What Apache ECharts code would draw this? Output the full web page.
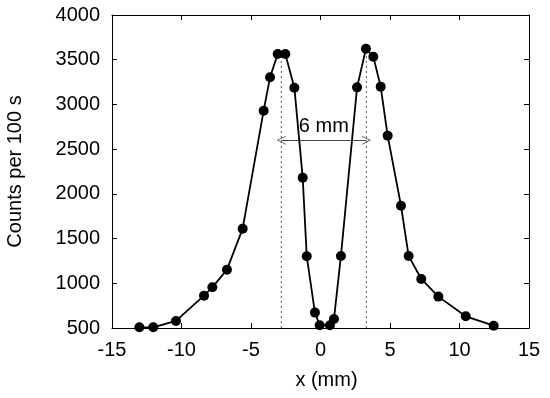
<!DOCTYPE html>
<html><head><meta charset="utf-8">
<script src="https://cdn.jsdelivr.net/npm/echarts@6/dist/echarts.min.js"></script>
<style>html,body{margin:0;padding:0;background:#fff}#c{width:550px;height:398px}</style>
</head><body><div id="c"></div>
<script>
var xValues = [-13.03,-12.03,-10.40,-8.38,-7.78,-6.73,-5.60,-4.09,-3.63,-3.08,-2.53,-1.88,-1.28,-0.99,-0.40,-0.06,0.68,0.97,1.47,2.63,3.27,3.80,4.33,4.83,5.79,6.34,7.25,8.48,10.45,12.46];
var counts  = [508,508,579,862,955,1152,1611,2930,3303,3564,3564,3187,2181,1302,672,531,531,601,1306,3191,3623,3534,3199,2651,1868,1306,1048,851,631,526];
var peakX = [-2.82, 3.30];
var peakTop = [3564, 3623];
var arrowY = 2600;
var arrowLabel = '6 mm';
var xName = 'x (mm)';
var yName = 'Counts per 100 s';

var FONT = 'Liberation Sans';
var chart = echarts.init(document.getElementById('c'), null, {renderer:'canvas'});
var pts = xValues.map(function(x,i){return [x, counts[i]];});
var plain = function(v){ return String(v); };
var axisCommon = {
  axisLine:{show:true, onZero:false, lineStyle:{color:'#000', width:1}},
  axisTick:{show:true, inside:true, length:5, lineStyle:{color:'#000'}},
  splitLine:{show:false}
};
var dotSeries = peakX.map(function(px,i){
  return {type:'line', data:[[px,500],[px,peakTop[i]]], symbol:'none', silent:true, z:1,
    lineStyle:{color:'#555', width:1, type:[2,3]}};
});
var chevron = 'path://M0,0 L6,10 L5,10 L0,1.8 L-5,10 L-6,10 Z';
var option = {
  animation:false,
  grid:{left:112, right:21, top:15, bottom:70, containLabel:false, outerBoundsMode:'none'},
  textStyle:{fontFamily:FONT},
  xAxis:[
    Object.assign({type:'value', min:-15, max:15, interval:5, position:'bottom',
      name:xName, nameLocation:'middle', nameGap:42,
      nameTextStyle:{fontFamily:FONT, fontSize:20, color:'#000', padding:[0,0,0,12]},
      axisLabel:{fontFamily:FONT, fontSize:20, color:'#000', margin:12, formatter:plain}}, axisCommon),
    Object.assign({type:'value', min:-15, max:15, interval:5, position:'top',
      axisLabel:{show:false}}, axisCommon)
  ],
  yAxis:[
    Object.assign({type:'value', min:500, max:4000, interval:500, position:'left',
      name:yName, nameLocation:'middle', nameGap:83, nameRotate:90,
      nameTextStyle:{fontFamily:FONT, fontSize:20, color:'#000', padding:[0,0,4,0]},
      axisLabel:{fontFamily:FONT, fontSize:20, color:'#000', margin:12, formatter:plain}}, axisCommon),
    Object.assign({type:'value', min:500, max:4000, interval:500, position:'right',
      axisLabel:{show:false}}, axisCommon)
  ],
  series: dotSeries.concat([
    {type:'line', data:[[peakX[0],arrowY],[peakX[1],arrowY]], symbol:'none', silent:true, z:2,
      lineStyle:{opacity:0},
      markLine:{silent:true, symbol:[chevron, chevron], symbolSize:[9,9],
        lineStyle:{color:'#444', width:1, type:'solid'},
        label:{show:true, position:'middle', formatter:arrowLabel, fontFamily:FONT, fontSize:20, color:'#000', distance:4},
        data:[[{coord:[peakX[0],arrowY]},{coord:[peakX[1],arrowY]}]]}},
    {type:'line', data:pts, symbol:'circle', symbolSize:10, z:5,
      itemStyle:{color:'#000'}, lineStyle:{color:'#000', width:1.8}}
  ])
};
chart.setOption(option);
</script></body></html>
